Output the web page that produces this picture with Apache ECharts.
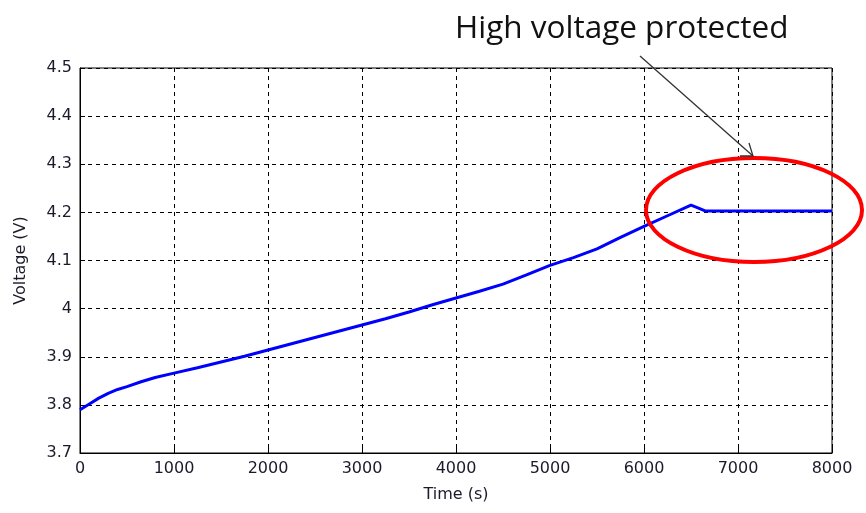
<!DOCTYPE html>
<html>
<head>
<meta charset="utf-8">
<script src="https://cdn.jsdelivr.net/npm/echarts@6/dist/echarts.min.js"></script>
<style>
  html, body { margin: 0; padding: 0; background: #fff; }
  #chart { width: 866px; height: 513px; }
</style>
</head>
<body>
<div id="chart"></div>
<script>
// Cell voltage during charge, time in seconds
const timeS = [0, 100, 200, 300, 400, 500, 650, 800, 1000, 1250, 1500, 1750, 2000, 2250, 2500, 2750, 3000, 3250, 3500, 3750, 4000, 4250, 4500, 4750, 5000, 5250, 5500, 5750, 6000, 6250, 6500, 6580, 6650, 7000, 7500, 8000];
const voltage = [3.790, 3.802, 3.814, 3.824, 3.832, 3.838, 3.848, 3.857, 3.866, 3.877, 3.889, 3.901, 3.914, 3.927, 3.940, 3.953, 3.966, 3.979, 3.993, 4.008, 4.022, 4.036, 4.051, 4.070, 4.090, 4.106, 4.124, 4.148, 4.171, 4.193, 4.215, 4.209, 4.203, 4.203, 4.203, 4.203];

const xTicks = { min: 0, max: 8000, interval: 1000 };
const yTicks = { min: 3.7, max: 4.5, interval: 0.1 };

const annotationText = 'High voltage protected';

const chart = echarts.init(document.getElementById('chart'), null, { renderer: 'canvas' });

const axisFont = { fontFamily: '"DejaVu Sans", sans-serif', fontSize: 16, color: '#1a1a2a' };
const dashed = { show: true, lineStyle: { color: '#000', type: [4, 4], width: 1 } };

chart.setOption({
  animation: false,
  backgroundColor: '#fff',
  grid: { left: 80, right: 34, top: 68, bottom: 60, show: true, borderColor: '#000', borderWidth: 1, backgroundColor: 'transparent' },
  xAxis: {
    type: 'value', min: xTicks.min, max: xTicks.max, interval: xTicks.interval,
    name: 'Time (s)', nameLocation: 'middle', nameGap: 34,
    nameTextStyle: axisFont,
    axisLine: { show: true, lineStyle: { color: '#000', width: 1 } },
    axisTick: { show: true, inside: true, length: 5, lineStyle: { color: '#000' } },
    axisLabel: Object.assign({ margin: 8, formatter: v => String(v) }, axisFont),
    splitLine: dashed
  },
  yAxis: {
    type: 'value', min: yTicks.min, max: yTicks.max, interval: yTicks.interval,
    name: 'Voltage (V)', nameLocation: 'middle', nameGap: 51, nameRotate: 90,
    nameTextStyle: axisFont,
    axisLine: { show: true, lineStyle: { color: '#000', width: 1 } },
    axisTick: { show: true, inside: true, length: 5, lineStyle: { color: '#000' } },
    axisLabel: Object.assign({ margin: 8, formatter: v => String(parseFloat(v.toFixed(1))) }, axisFont),
    splitLine: dashed
  },
  series: [{
    type: 'line',
    data: timeS.map((t, i) => [t, voltage[i]]),
    showSymbol: false,
    smooth: false,
    lineStyle: { color: '#0000ff', width: 3 },
    z: 5
  }],
  graphic: [
    {
      type: 'text', left: 455, top: 13, z: 10,
      style: { text: annotationText, font: '31.5px "Open Sans", "DejaVu Sans", sans-serif', fill: '#111' }
    },
    {
      type: 'ellipse', z: 10,
      shape: { cx: 754, cy: 210, rx: 108, ry: 52 },
      style: { fill: 'none', stroke: '#ff0000', lineWidth: 4 }
    },
    {
      type: 'line', z: 10,
      shape: { x1: 640, y1: 56, x2: 753, y2: 156 },
      style: { stroke: '#333', lineWidth: 1.3 }
    },
    {
      type: 'polyline', z: 10,
      shape: { points: [[740, 156], [753, 156], [749, 143]] },
      style: { stroke: '#333', lineWidth: 1.3, fill: 'none' }
    }
  ]
});
</script>
</body>
</html>
